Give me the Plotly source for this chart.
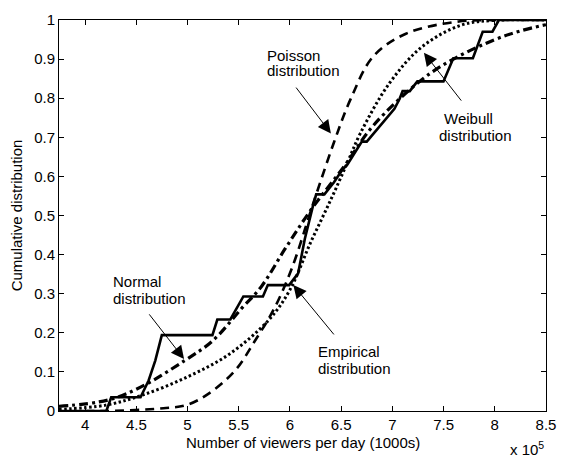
import plotly.graph_objects as go

# x values in units of 1e5 viewers/day
emp_x = [3.745, 4.207, 4.255, 4.541, 4.62, 4.685, 4.749, 5.243, 5.291, 5.418, 5.545, 5.736, 5.784, 5.992,
         6.08, 6.145, 6.224, 6.256, 6.336, 6.384, 6.43, 6.511, 6.56, 6.639, 6.702, 6.75, 6.83, 6.9, 6.973,
         7.02, 7.07, 7.1, 7.17, 7.244, 7.499, 7.595, 7.786, 7.882, 7.977, 8.04, 8.5]
emp_y = [0, 0, 0.035, 0.035, 0.078, 0.129, 0.194, 0.194, 0.234, 0.234, 0.293, 0.293, 0.322, 0.322,
         0.352, 0.44, 0.524, 0.554, 0.554, 0.571, 0.585, 0.617, 0.63, 0.663, 0.689, 0.689, 0.714, 0.735, 0.756,
         0.773, 0.798, 0.818, 0.818, 0.843, 0.843, 0.902, 0.902, 0.97, 0.97, 1.0, 1.0]

poi_x = [4.0, 4.22, 4.765, 4.988, 5.21, 5.466, 5.657, 5.848, 6.017, 6.24, 6.431, 6.591, 6.814, 7.132, 7.61, 8.0, 8.5]
poi_y = [0.0, 0.0, 0.007, 0.015, 0.045, 0.104, 0.179, 0.263, 0.364, 0.541, 0.688, 0.797, 0.907, 0.965, 0.995, 1.0, 1.0]

nor_x = [3.745, 4.223, 4.541, 4.972, 5.243, 5.53, 5.72, 5.953, 6.209, 6.527, 6.814, 7.29, 7.61, 7.993, 8.25, 8.5]
nor_y = [0.012, 0.028, 0.061, 0.129, 0.179, 0.263, 0.318, 0.415, 0.516, 0.625, 0.73, 0.848, 0.902, 0.949, 0.972, 0.988]

wei_x = [3.745, 4.2, 4.551, 4.997, 5.411, 5.8, 6.0, 6.2, 6.4, 6.559, 6.687, 6.973, 7.292, 7.674, 8.0, 8.5]
wei_y = [0.004, 0.015, 0.04, 0.087, 0.146, 0.235, 0.31, 0.43, 0.541, 0.634, 0.71, 0.839, 0.932, 0.987, 0.999, 1.0]

x_ticks = [4, 4.5, 5, 5.5, 6, 6.5, 7, 7.5, 8, 8.5]
y_ticks = [0, 0.1, 0.2, 0.3, 0.4, 0.5, 0.6, 0.7, 0.8, 0.9, 1]

# label lines: (text, x_left, y_center)
label_lines = [
    ("Poisson", 5.762, 0.909), ("distribution", 5.762, 0.871),
    ("Weibull", 7.499, 0.747), ("distribution", 7.442, 0.705),
    ("Normal", 4.264, 0.331), ("distribution", 4.264, 0.289),
    ("Empirical", 6.262, 0.152), ("distribution", 6.262, 0.108),
]
# arrows: (tip_x, tip_y, tail_x, tail_y)
arrows = [
    (6.40, 0.71, 6.049, 0.831),
    (7.308, 0.916, 7.684, 0.79),
    (4.966, 0.133, 4.615, 0.251),
    (6.033, 0.322, 6.441, 0.192),
]

FONT = "Liberation Sans, Arial, sans-serif"
fig = go.Figure()
fig.add_trace(go.Scatter(x=poi_x, y=poi_y, mode="lines", line=dict(color="black", width=2.6, dash="9px,6px", shape="spline")))
fig.add_trace(go.Scatter(x=wei_x, y=wei_y, mode="lines", line=dict(color="black", width=3, dash="2.5px,2.5px", shape="spline")))
fig.add_trace(go.Scatter(x=nor_x, y=nor_y, mode="lines", line=dict(color="black", width=3.2, dash="9px,4px,3px,4px", shape="spline")))
fig.add_trace(go.Scatter(x=emp_x, y=emp_y, mode="lines", line=dict(color="black", width=2.6)))

ann = []
for t, x, y in label_lines:
    ann.append(dict(text=t, x=x, y=y, xref="x", yref="y", showarrow=False, xanchor="left", yanchor="middle",
                    borderpad=0, font=dict(family=FONT, size=15, color="black")))
for tx, ty, sx, sy in arrows:
    ann.append(dict(text="", x=tx, y=ty, ax=sx, ay=sy, xref="x", yref="y", axref="x", ayref="y",
                    showarrow=True, arrowhead=2, arrowsize=2.6, arrowwidth=1, arrowcolor="black"))
ann.append(dict(text="Number of viewers per day (1000s)", x=0.5, y=-0.081, xref="paper", yref="paper",
                showarrow=False, xanchor="center", yanchor="middle", font=dict(family=FONT, size=15, color="black")))
ann.append(dict(text="Cumulative distribution", x=-0.0865, y=0.5, xref="paper", yref="paper", textangle=-90,
                showarrow=False, xanchor="center", yanchor="middle", font=dict(family=FONT, size=15, color="black")))
ann.append(dict(text="x 10<sup>5</sup>", x=0.998, y=-0.095, xref="paper", yref="paper",
                showarrow=False, xanchor="right", yanchor="middle", borderpad=0,
                font=dict(family=FONT, size=15, color="black")))

axis_common = dict(showline=True, linecolor="black", linewidth=1, mirror="ticks", ticks="inside", ticklen=5,
                   tickcolor="black", tickwidth=1, showgrid=False, zeroline=False,
                   tickfont=dict(family=FONT, size=15, color="black"))
fig.update_layout(
    width=567, height=459,
    margin=dict(l=59, r=11, t=15, b=48),
    paper_bgcolor="white", plot_bgcolor="white",
    showlegend=False,
    xaxis=dict(range=[3.745, 8.5], tickvals=x_ticks, ticktext=[f"{v:g}" for v in x_ticks], **axis_common),
    yaxis=dict(range=[0, 1], tickvals=y_ticks, ticktext=[f"{v:g}" for v in y_ticks], **axis_common),
    annotations=ann,
)
fig.write_html("out.html")
